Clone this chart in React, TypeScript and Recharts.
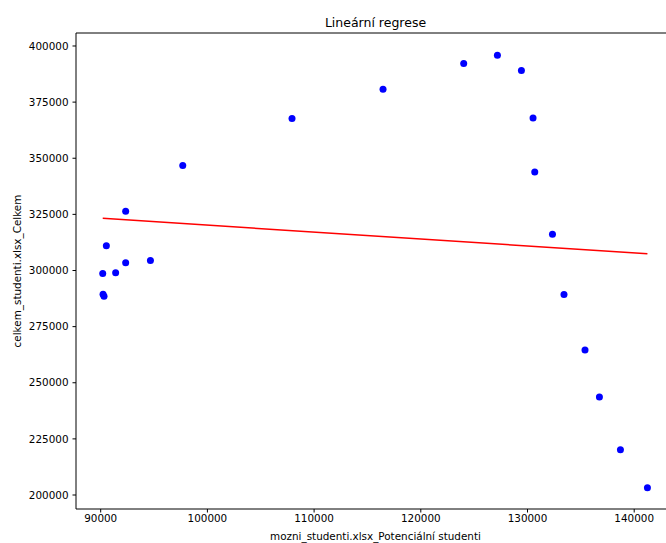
import React from "react";
import { ScatterChart, Scatter, XAxis, YAxis, ReferenceLine } from "recharts";

// values
const potentialStudents = [
  90190, 90220, 90310, 90530, 91400, 92340, 92340, 94660, 97690, 107930, 116460,
  124020, 127180, 129430, 130520, 130680, 132340, 133420, 135390, 136740, 138710, 141240,
];
const totalStudents = [
  298690, 289470, 288580, 310970, 298950, 326420, 303410, 304470, 346760, 367680, 380730,
  392170, 395860, 389050, 367950, 343910, 316180, 289340, 264540, 243620, 220170, 203250,
];
const regressionX = [90190, 141240];
const regressionY = [323250, 307490];

const xTicks = [90000, 100000, 110000, 120000, 130000, 140000];
const yTicks = [200000, 225000, 250000, 275000, 300000, 325000, 350000, 375000, 400000];

const X_DOMAIN: [number, number] = [87685, 143824];
const Y_DOMAIN: [number, number] = [193768, 405787];

const points = potentialStudents.map((x, i) => ({ x, y: totalStudents[i] }));
const fitLine = regressionX.map((x, i) => ({ x, y: regressionY[i] }));

const FONT = "'DejaVu Sans', sans-serif";
const tickStyle = { fill: "#000", fontSize: 10.4, fontFamily: FONT };

const Dot = (p: any) => <circle cx={p.cx} cy={p.cy} r={3.5} fill="#0000ff" />;
const NoDot = () => <g />;

export default function App() {
  return (
    <div style={{ position: "relative", width: 666, height: 543, overflow: "hidden", background: "#fff" }}>
      <style>{"html,body{margin:0;padding:0;overflow:hidden}"}</style>
      <ScatterChart width={690} height={543} margin={{ top: 33, right: 15, bottom: 0, left: 10 }}>
        <XAxis
          type="number"
          dataKey="x"
          domain={X_DOMAIN}
          ticks={xTicks}
          allowDataOverflow
          height={34}
          tickSize={3.5}
          tickMargin={2}
          tick={tickStyle}
          stroke="#000"
          axisLine={{ stroke: "#000", strokeWidth: 1 }}
          tickLine={{ stroke: "#000" }}
        />
        <YAxis
          type="number"
          dataKey="y"
          domain={Y_DOMAIN}
          ticks={yTicks}
          allowDataOverflow
          width={66}
          tickSize={3.5}
          tickMargin={4}
          tick={tickStyle}
          stroke="#000"
          axisLine={{ stroke: "#000", strokeWidth: 1 }}
          tickLine={{ stroke: "#000" }}
        />
        <ReferenceLine y={Y_DOMAIN[1]} stroke="#000" strokeWidth={1} />
        <Scatter data={points} shape={Dot} isAnimationActive={false} />
        <Scatter
          data={fitLine}
          shape={NoDot}
          line={{ stroke: "#ff0000", strokeWidth: 1.5 }}
          isAnimationActive={false}
        />
      </ScatterChart>
      <div style={{ position: "absolute", left: 76, width: 599, top: 14.5, textAlign: "center", fontFamily: FONT, fontSize: 12.5, color: "#000" }}>
        Lineární regrese
      </div>
      <div style={{ position: "absolute", left: 76, width: 599, top: 529.5, textAlign: "center", fontFamily: FONT, fontSize: 10.4, color: "#000" }}>
        mozni_studenti.xlsx_Potenciální studenti
      </div>
      <div
        style={{
          position: "absolute",
          left: 17 - 150,
          top: 271 - 7,
          width: 300,
          textAlign: "center",
          transform: "rotate(-90deg)",
          fontFamily: FONT,
          fontSize: 10.4,
          color: "#000",
          lineHeight: "14px",
        }}
      >
        celkem_studenti.xlsx_Celkem
      </div>
    </div>
  );
}
